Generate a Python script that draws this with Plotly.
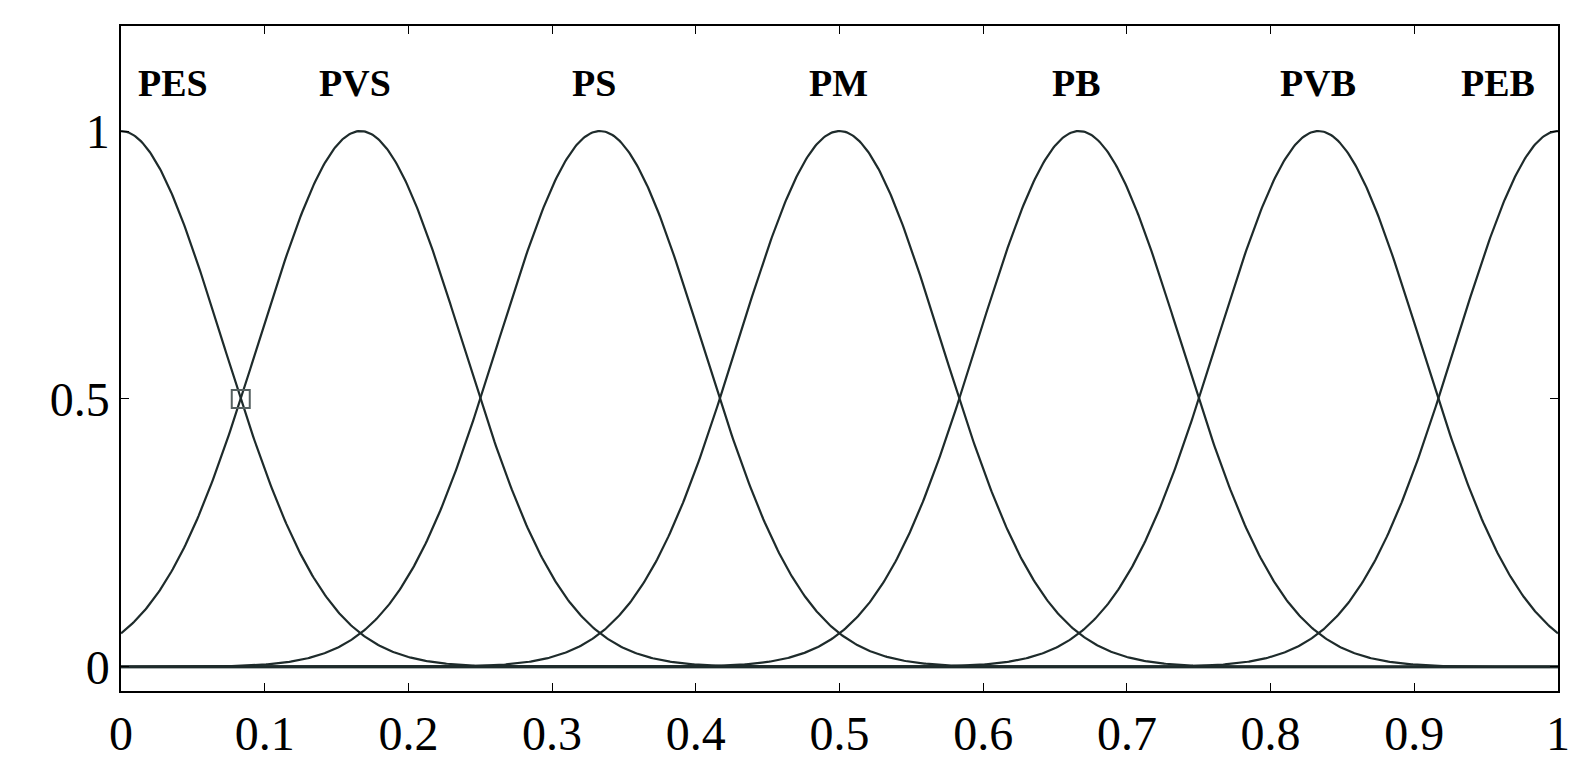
import numpy as np
import plotly.graph_objects as go

# membership function parameters (Gaussian MFs)
labels = ["PES", "PVS", "PS", "PM", "PB", "PVB", "PEB"]
centers = [0.0, 1/6, 2/6, 3/6, 4/6, 5/6, 1.0]
sigma = 0.0708
label_x = [0.036, 0.163, 0.329, 0.499, 0.665, 0.833, 0.958]
label_y = 1.09
marker_pt = (1/12, 0.5)
xticks = [0, 0.1, 0.2, 0.3, 0.4, 0.5, 0.6, 0.7, 0.8, 0.9, 1]
xticktext = ["0", "0.1", "0.2", "0.3", "0.4", "0.5", "0.6", "0.7", "0.8", "0.9", "1"]
yticks = [0, 0.5, 1]

x = np.linspace(0, 1, 1001)
fig = go.Figure()
fig.add_trace(go.Scatter(x=[0, 1], y=[0, 0], mode="lines",
                         line=dict(color="#556060", width=3), showlegend=False))
for c in centers:
    fig.add_trace(go.Scatter(x=x, y=np.exp(-(x - c) ** 2 / (2 * sigma ** 2)), mode="lines",
                             line=dict(color="#1e2b2b", width=2.2), showlegend=False))
fig.add_trace(go.Scatter(x=[marker_pt[0]], y=[marker_pt[1]], mode="markers",
                         marker=dict(symbol="square-open", size=18, color="#556060",
                                     line=dict(width=2)), showlegend=False))
for t, lx in zip(labels, label_x):
    fig.add_annotation(x=lx, y=label_y, text="<b>" + t + "</b>", showarrow=False,
                       font=dict(family="Liberation Serif", size=38, color="black"))

axis_common = dict(showline=True, linecolor="black", linewidth=1.5, mirror="ticks",
                   ticks="inside", ticklen=8, tickcolor="black", showgrid=False,
                   zeroline=False, automargin=False,
                   tickfont=dict(family="Liberation Serif", size=48, color="black"))
fig.update_xaxes(range=[0, 1], tickvals=xticks, ticktext=xticktext, **axis_common)
fig.update_yaxes(range=[-0.045, 1.196], tickvals=yticks, ticktext=["0", "0.5", "1"], **axis_common)
fig.update_layout(width=1588, height=778, margin=dict(l=113, r=38, t=18, b=95),
                  plot_bgcolor="white", paper_bgcolor="white")
fig.write_html("out.html")
